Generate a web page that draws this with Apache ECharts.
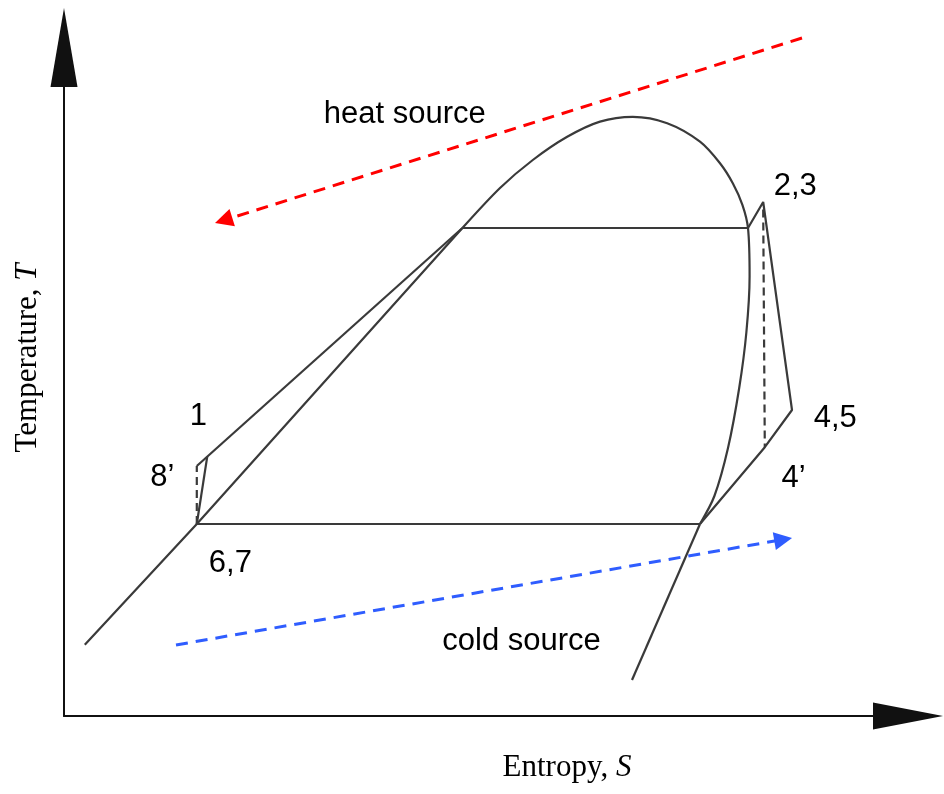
<!DOCTYPE html>
<html>
<head>
<meta charset="utf-8">
<script src="https://cdn.jsdelivr.net/npm/echarts@6/dist/echarts.min.js"></script>
<style>
  html, body { margin: 0; padding: 0; background: #ffffff; }
  #chart { width: 944px; height: 794px; }
</style>
</head>
<body>
<div id="chart"></div>
<script>
// T–S diagram of an organic Rankine cycle (schematic units: S along x, T along y)

// Saturated liquid line (straight part of the dome, lower left)
const liquidLine = [[2.6, 8.9], [16.6, 24.0], [49.8, 61.0]];
// Saturation dome from the liquid side over the top and down the vapour side
const domeCurve = [
  [49.8, 61.0], [54.5, 66.0], [58.6, 69.5], [62.9, 72.4], [67.0, 74.3],
  [71.1, 74.9], [75.4, 74.1], [79.5, 71.8], [82.0, 69.1], [83.6, 66.6],
  [84.8, 63.9], [85.5, 61.0], [85.7, 55.0], [85.3, 48.0], [84.4, 41.0],
  [83.0, 33.5], [81.3, 27.5], [79.5, 24.0]
];
// Straight lower end of the saturated vapour line
const vapourTail = [[79.5, 24.0], [71.0, 4.5]];
// Cycle segments
const preheating = [[16.6, 31.25], [49.8, 61.0]];
const pumping = [[16.6, 24.0], [17.9, 32.4]];
const evaporation = [[49.8, 61.0], [85.5, 61.0]];
const expansionAndCooling = [[85.5, 61.0], [87.4, 64.25], [91.0, 38.25], [87.6, 33.6], [79.5, 24.0]];
const condensation = [[16.6, 24.0], [79.5, 24.0]];
// Ideal (isentropic) processes
const idealPump = [[16.6, 24.0], [16.6, 31.25]];
const idealExpansion = [[87.4, 63.3], [87.6, 33.6]];
// Heat source / cold source flow directions
const heatSourceFlow = [[92.25, 84.75], [19.95, 61.96]];
const coldSourceFlow = [[14.0, 8.875], [89.9, 22.06]];
// State point labels and annotations
const pointLabels = [
  [91.4, 66.2, '2,3'],
  [96.4, 37.2, '4,5'],
  [91.2, 29.7, '4’'],
  [16.8, 37.5, '1'],
  [12.3, 29.8, '8’'],
  [20.8, 19.1, '6,7'],
  [42.6, 75.2, 'heat source'],
  [57.2, 9.3, 'cold source']
];

const curveColor = '#3a3a3a';

function solid(data, smooth) {
  return {
    type: 'line', data: data, smooth: smooth || false, symbol: 'none',
    clip: false, silent: true, z: 3,
    lineStyle: { color: curveColor, width: 2.2 }
  };
}
function dashed(data) {
  return {
    type: 'line', data: data, symbol: 'none', clip: false, silent: true, z: 3,
    lineStyle: { color: curveColor, width: 2.2, type: [8, 5] }
  };
}
function flowArrow(data, color) {
  return {
    type: 'lines', coordinateSystem: 'cartesian2d', clip: false, silent: true, z: 4,
    symbol: ['none', 'triangle'], symbolSize: 18,
    lineStyle: { color: color, width: 3, type: [12, 8], opacity: 1 },
    data: [{ coords: data }]
  };
}

const chart = echarts.init(document.getElementById('chart'), null, { renderer: 'canvas' });

chart.setOption({
  animation: false,
  backgroundColor: '#ffffff',
  grid: { left: 64, right: 36, top: 47.5, bottom: 78 },
  xAxis: {
    type: 'value', min: 0, max: 105.5,
    axisLine: {
      show: true, onZero: false,
      symbol: ['none', 'triangle'], symbolSize: [27, 70],
      lineStyle: { color: '#111111', width: 2 }
    },
    axisTick: { show: false }, axisLabel: { show: false }, splitLine: { show: false }
  },
  yAxis: {
    type: 'value', min: 0, max: 83.5625,
    axisLine: {
      show: true, onZero: false,
      symbol: ['none', 'triangle'], symbolSize: [27, 79],
      lineStyle: { color: '#111111', width: 2 }
    },
    axisTick: { show: false }, axisLabel: { show: false }, splitLine: { show: false }
  },
  graphic: [
    {
      type: 'text', x: 567, y: 768,
      style: {
        text: 'Entropy, {i|S}', fill: '#000', font: '31px "Liberation Serif"',
        align: 'center', verticalAlign: 'middle',
        rich: { i: { fontStyle: 'italic', fontSize: 31, fontFamily: 'Liberation Serif', fill: '#000' } }
      }
    },
    {
      type: 'text', x: 28, y: 358, rotation: Math.PI / 2,
      style: {
        text: 'Temperature, {i|T}', fill: '#000', font: '31px "Liberation Serif"',
        align: 'center', verticalAlign: 'middle',
        rich: { i: { fontStyle: 'italic', fontSize: 31, fontFamily: 'Liberation Serif', fill: '#000' } }
      }
    }
  ],
  series: [
    solid(liquidLine),
    solid(domeCurve, 0.3),
    solid(vapourTail),
    solid(preheating),
    solid(pumping),
    solid(evaporation),
    solid(expansionAndCooling),
    solid(condensation),
    dashed(idealPump),
    dashed(idealExpansion),
    flowArrow(heatSourceFlow, '#ff0000'),
    flowArrow(coldSourceFlow, '#2f5dff'),
    {
      type: 'custom', data: pointLabels, silent: true, z: 5, clip: false,
      renderItem: function (params, api) {
        const pt = api.coord([api.value(0), api.value(1)]);
        return {
          type: 'text', x: pt[0], y: pt[1],
          style: {
            text: pointLabels[params.dataIndex][2],
            fill: '#000000', font: '31px "Liberation Sans"',
            align: 'center', verticalAlign: 'middle'
          }
        };
      }
    }
  ]
});
</script>
</body>
</html>
